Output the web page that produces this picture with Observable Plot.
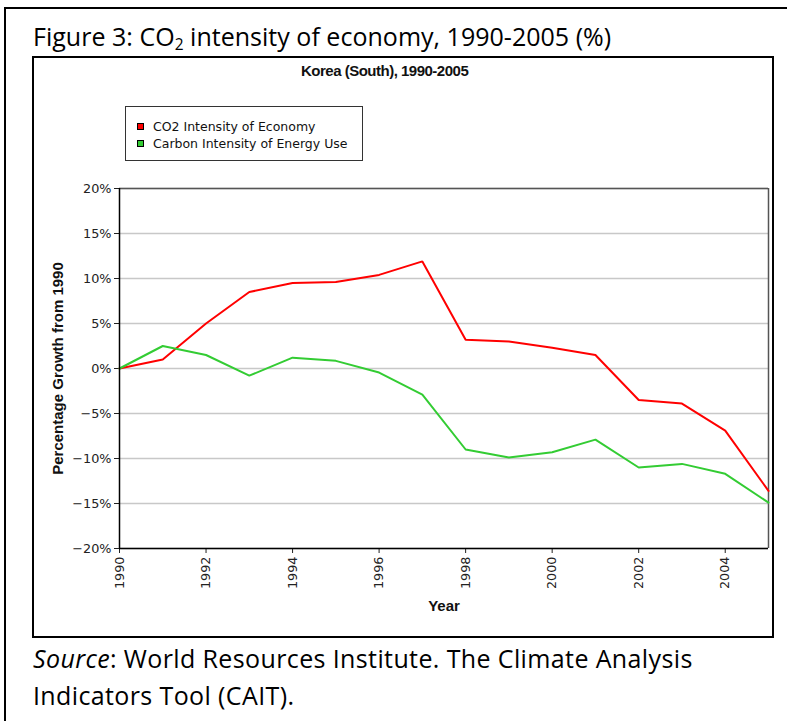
<!DOCTYPE html>
<html>
<head>
<meta charset="utf-8">
<script src="https://cdn.jsdelivr.net/npm/d3@7"></script>
<script src="https://cdn.jsdelivr.net/npm/@observablehq/plot@0.6"></script>
<style>
  html, body { margin: 0; padding: 0; background: #fff; }
  #page { position: relative; width: 787px; height: 721px; overflow: hidden; background: #fff; }
  .hline { position: absolute; background: #000; }
  #figTitle { position: absolute; left: 33px; top: 19px; font-family: "Open Sans", sans-serif; font-size: 25px; letter-spacing: 0.02px; color: #000; white-space: nowrap; }
  #figTitle sub { font-size: 0.62em; vertical-align: -0.25em; }
  #chartBox { position: absolute; left: 32px; top: 56px; width: 738px; height: 578px; border: 2px solid #000; }
  #chartTitle { position: absolute; left: 301px; top: 62px; font-family: "Liberation Sans", Arial, sans-serif; font-weight: bold; font-size: 15px; letter-spacing: -0.5px; color: #111; white-space: nowrap; }
  #plotHolder { position: absolute; left: 35px; top: 59px; }
  #legend { position: absolute; left: 125px; top: 106px; width: 238px; height: 55px; border: 1px solid #333; background: #fff; font-family: "DejaVu Sans", Verdana, sans-serif; font-size: 12.5px; color: #111; box-sizing: border-box; }
  .lg-row { position: absolute; left: 11px; height: 16px; line-height: 16px; white-space: nowrap; }
  .lg-sw { display: inline-block; width: 5px; height: 5px; border: 1px solid #000; margin-right: 9px; vertical-align: 1px; }
  #caption { position: absolute; left: 33px; top: 640px; font-family: "Open Sans", sans-serif; font-size: 25px; line-height: 37px; letter-spacing: 0.38px; color: #000; white-space: nowrap; }
  svg.plot-svg { background: transparent !important; overflow: visible; }
  svg.plot-svg g[aria-label$="tick label"] { font-family: "DejaVu Sans", Verdana, sans-serif; font-size: 12.8px; fill: #222; }
  svg.plot-svg g[aria-label="y-axis label"], svg.plot-svg g[aria-label="x-axis label"] { font-family: "Liberation Sans", Arial, sans-serif; font-size: 15px; font-weight: bold; fill: #111; }
</style>
</head>
<body>
<div id="page">
  <div class="hline" style="left:4px; top:7px; width:783px; height:2px;"></div>
  <div class="hline" style="left:4px; top:7px; width:2px; height:714px;"></div>
  <div id="figTitle">Figure 3: CO<sub>2</sub> intensity of economy, 1990-2005 (%)</div>
  <div id="chartBox"></div>
  <div id="chartTitle"></div>
  <div id="plotHolder"></div>
  <div id="legend"></div>
  <div id="caption"><i>Source</i>: World Resources Institute. The Climate Analysis<br>Indicators Tool (CAIT).</div>
</div>
<script>
// ---- data ----
const years = [1990, 1991, 1992, 1993, 1994, 1995, 1996, 1997, 1998, 1999, 2000, 2001, 2002, 2003, 2004, 2005];
const co2IntensityOfEconomy = [0, 1.0, 5.0, 8.5, 9.5, 9.6, 10.4, 11.9, 3.2, 3.0, 2.3, 1.5, -3.5, -3.9, -6.9, -13.6];
const carbonIntensityOfEnergyUse = [0, 2.5, 1.5, -0.8, 1.2, 0.85, -0.45, -2.9, -9.0, -9.9, -9.3, -7.9, -11.0, -10.6, -11.7, -14.9];
const seriesNames = ["CO2 Intensity of Economy", "Carbon Intensity of Energy Use"];
const seriesColors = ["#ff0000", "#33cc33"];
const yTicks = [-20, -15, -10, -5, 0, 5, 10, 15, 20];
const xTicks = [1990, 1992, 1994, 1996, 1998, 2000, 2002, 2004];
const chartTitle = "Korea (South), 1990-2005";
const xLabel = "Year";
const yLabel = "Percentage Growth from 1990";

const rows = [];
years.forEach((y, i) => {
  rows.push({year: y, value: co2IntensityOfEconomy[i], series: seriesNames[0]});
});
years.forEach((y, i) => {
  rows.push({year: y, value: carbonIntensityOfEnergyUse[i], series: seriesNames[1]});
});

const fmtPct = d => (d < 0 ? "\u2212" : "") + Math.abs(d) + "%";

const chart = Plot.plot({
  width: 736,
  height: 576,
  marginLeft: 84,
  marginRight: 3,
  marginTop: 129,
  marginBottom: 87,
  style: {fontFamily: "Liberation Sans, Arial, sans-serif", color: "#222", background: "transparent"},
  x: {domain: [1990, 2005]},
  y: {domain: [-20, 20]},
  color: {domain: seriesNames, range: seriesColors},
  marks: [
    Plot.gridY(yTicks, {stroke: "#c8c8c8", strokeOpacity: 1, strokeWidth: 1.5}),
    Plot.ruleY([20], {stroke: "#555", strokeWidth: 1.5}),
    Plot.ruleX([2005], {stroke: "#555", strokeWidth: 1.5}),
    Plot.axisY(yTicks, {tickFormat: fmtPct, tickSize: 5, tickPadding: 3, label: yLabel, labelAnchor: "center", labelArrow: "none", labelOffset: 67}),
    Plot.axisX(xTicks, {tickFormat: d => String(d), tickSize: 5, tickRotate: -90, tickPadding: 3, label: xLabel, labelAnchor: "center", labelArrow: "none", labelOffset: 62}),
    Plot.line(rows, {x: "year", y: "value", z: "series", stroke: "series", strokeWidth: 2, strokeLinejoin: "miter"}),
    Plot.ruleY([-20], {stroke: "#000", strokeWidth: 1.5}),
    Plot.ruleX([1990], {stroke: "#000", strokeWidth: 1.5})
  ]
});
chart.classList.add("plot-svg");
document.getElementById("plotHolder").appendChild(chart);

// legend
const legend = d3.select("#legend");
seriesNames.forEach((name, i) => {
  const row = legend.append("div").attr("class", "lg-row").style("top", (12 + i * 17) + "px");
  row.append("span").attr("class", "lg-sw").style("background", seriesColors[i]);
  row.append("span").text(name);
});
document.getElementById("chartTitle").textContent = chartTitle;
</script>
</body>
</html>
